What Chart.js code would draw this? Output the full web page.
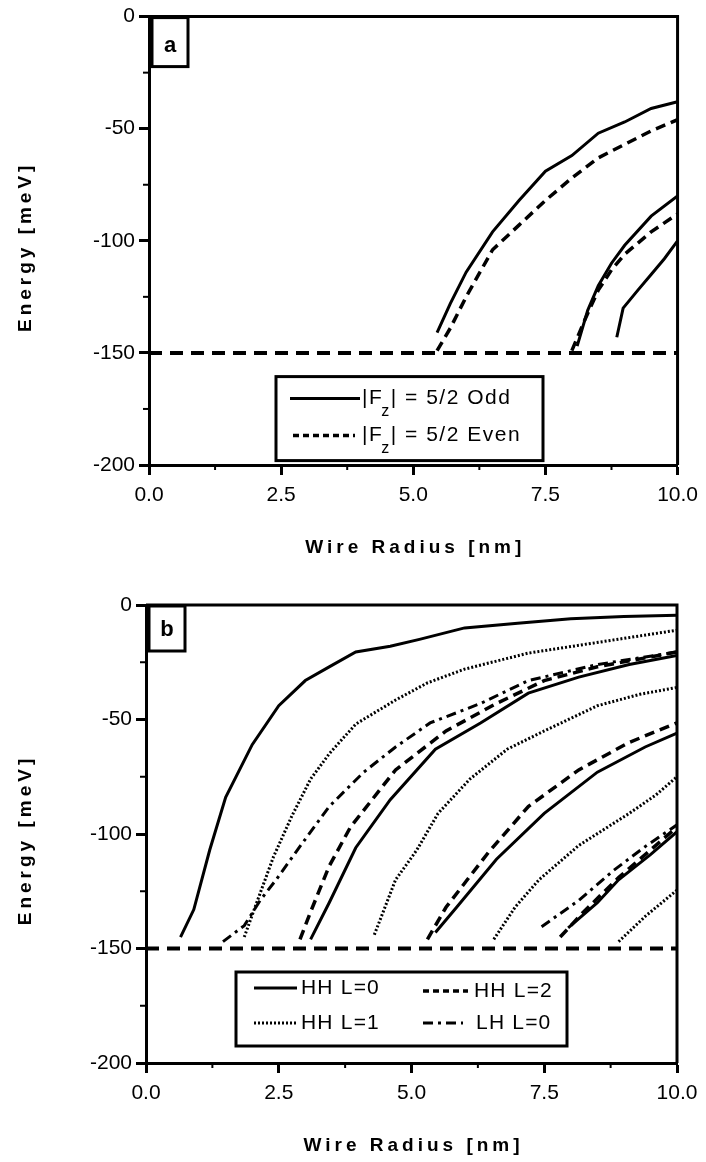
<!DOCTYPE html>
<html>
<head>
<meta charset="utf-8">
<script src="https://cdn.jsdelivr.net/npm/chart.js@4.4.1/dist/chart.umd.min.js"></script>
<style>
  body { margin: 0; background: #fff; }
  canvas { position: absolute; left: 0; }
</style>
</head>
<body>
<canvas id="chart-a" width="706" height="580" style="top:0"></canvas>
<canvas id="chart-b" width="706" height="582" style="top:580px"></canvas>
<script>
// tick labels
const xMajor = [0, 2.5, 5, 7.5, 10];
const yMajor = [0, -50, -100, -150, -200];
const xTitle = 'Wire Radius [nm]';
const yTitle = 'Energy [meV]';

// barrier level, both panels
const barrier = [[0, -150], [10, -150]];

// panel a : |Fz| = 5/2  ([radius, energy])
const oddA1 = [[5.45, -141], [5.7, -128], [6.0, -114], [6.5, -96], [7.0, -82], [7.5, -69], [8.0, -62], [8.5, -52], [9.0, -47], [9.5, -41], [10, -38]];
const oddA2 = [[8.1, -147], [8.3, -131], [8.5, -120], [8.75, -110], [9.0, -102], [9.5, -89], [10, -80]];
const oddA3 = [[8.85, -143], [8.97, -130], [9.25, -122], [9.5, -115], [9.75, -108], [10, -100]];
const evenA1 = [[5.45, -149], [5.7, -139], [6.0, -125], [6.5, -104], [7.0, -93], [7.5, -82], [8.0, -72], [8.5, -63], [9.0, -57], [9.5, -51], [10, -46]];
const evenA2 = [[8.0, -149], [8.25, -135], [8.5, -122], [8.75, -113], [9.0, -106], [9.5, -96], [10, -88]];
const labelsA = ['|F_z| = 5/2 Odd', '|F_z| = 5/2 Even'];

// panel b : HH / LH subbands
const hh0B1 = [[0.65, -145], [0.9, -133], [1.2, -107], [1.5, -84], [2.0, -61], [2.5, -44], [3.0, -33], [3.45, -27], [3.95, -20.5], [4.6, -18], [5.15, -15], [6.0, -10], [7.0, -8], [8.0, -6], [9.0, -5], [10, -4.5]];
const hh0B2 = [[3.1, -146], [3.45, -130], [3.95, -106], [4.6, -85], [5.45, -63], [6.3, -51.5], [7.2, -38.5], [8.15, -31.5], [9.1, -26], [10, -22]];
const hh0B3 = [[5.45, -143], [5.85, -132], [6.6, -111], [7.5, -91], [8.5, -73], [9.4, -62], [10, -56]];
const hh0B4 = [[7.95, -141], [8.5, -130], [8.9, -120], [9.5, -109], [10, -99]];
const hh1B1 = [[1.85, -145], [2.1, -129], [2.4, -110], [2.75, -92], [3.1, -76], [3.45, -65], [3.95, -52], [4.7, -41.5], [5.3, -34], [6.0, -28], [7.2, -21], [8.6, -16], [10, -11]];
const hh1B2 = [[4.3, -144], [4.7, -120], [5.1, -107], [5.5, -91], [6.1, -76], [6.8, -63], [7.5, -55], [8.5, -44], [9.3, -39], [10, -36]];
const hh1B3 = [[6.55, -146], [6.95, -132], [7.4, -120], [8.15, -105], [9.1, -91], [9.6, -83], [10, -75]];
const hh1B4 = [[8.9, -147], [9.4, -136], [10, -124.5]];
const hh2B1 = [[2.9, -146], [3.1, -134], [3.45, -114], [3.85, -97], [4.7, -72], [5.65, -55], [6.6, -43], [7.5, -33], [8.5, -27], [10, -20.5]];
const hh2B2 = [[5.3, -146], [5.65, -132], [6.05, -120], [6.45, -108], [7.2, -88], [8.15, -72], [9.1, -60], [10, -51.5]];
const hh2B3 = [[7.8, -145], [8.2, -135], [8.9, -119], [9.7, -103], [10, -97]];
const lh0B1 = [[1.45, -147], [1.85, -140], [2.15, -129], [2.45, -120], [2.85, -107], [3.45, -88], [4.1, -73], [4.7, -62], [5.35, -51.5], [6.3, -43], [7.2, -33], [8.5, -26], [10, -20.5]];
const lh0B2 = [[7.45, -140.5], [8.15, -129], [8.8, -116], [9.4, -105.5], [10, -96]];
const labelsB = ['HH L=0', 'HH L=2', 'HH L=1', 'LH L=0'];

const styles = {
  solid: { dash: [], width: 3 },
  dashed: { dash: [10, 6], width: 3.5 },
  legendDash: { dash: [6, 4], width: 3.5 },
  dotted: { dash: [2, 2], width: 3 },
  dashdot: { dash: [10, 5, 3, 5], width: 3 },
  barrier: { dash: [13, 8], width: 4 }
};

const FONT = '"Liberation Sans", Arial, sans-serif';

function curve(points, style) {
  return {
    data: points.map(p => ({ x: p[0], y: p[1] })),
    borderColor: '#000',
    borderWidth: style.width,
    borderDash: style.dash,
    borderCapStyle: 'butt',
    pointRadius: 0,
    tension: 0,
    fill: false
  };
}

// label with "_z" rendered as a subscript
function drawLabel(ctx, text, x, y, spacing) {
  const parts = text.split('_');
  ctx.save();
  ctx.letterSpacing = spacing + 'px';
  ctx.font = '21px ' + FONT;
  ctx.textBaseline = 'middle';
  ctx.textAlign = 'left';
  ctx.fillText(parts[0], x, y);
  if (parts.length > 1) {
    let cx = x + ctx.measureText(parts[0]).width;
    ctx.font = '16px ' + FONT;
    ctx.fillText(parts[1][0], cx - 2, y + 13);
    cx += ctx.measureText(parts[1][0]).width - 2;
    ctx.font = '21px ' + FONT;
    ctx.fillText(parts[1].slice(1), cx, y);
  }
  ctx.restore();
}

function strokeSample(ctx, style, x, y, w) {
  ctx.save();
  ctx.setLineDash(style.dash);
  ctx.lineWidth = style.width;
  ctx.beginPath();
  ctx.moveTo(x, y);
  ctx.lineTo(x + w, y);
  ctx.stroke();
  ctx.restore();
}

const decorations = {
  id: 'decorations',
  afterDraw(chart, args, opts) {
    const { ctx, chartArea: a, scales } = chart;
    ctx.save();
    ctx.strokeStyle = '#000';
    ctx.fillStyle = '#000';
    ctx.setLineDash([]);

    // top and right frame
    ctx.lineWidth = 3;
    ctx.beginPath();
    ctx.moveTo(a.left, a.top);
    ctx.lineTo(a.right, a.top);
    ctx.lineTo(a.right, a.bottom);
    ctx.stroke();

    // minor ticks
    ctx.lineWidth = 2;
    for (let i = 0; i < yMajor.length - 1; i++) {
      const py = scales.y.getPixelForValue((yMajor[i] + yMajor[i + 1]) / 2);
      ctx.beginPath(); ctx.moveTo(a.left - 6, py); ctx.lineTo(a.left, py); ctx.stroke();
    }
    for (let i = 0; i < xMajor.length - 1; i++) {
      const px = scales.x.getPixelForValue((xMajor[i] + xMajor[i + 1]) / 2);
      ctx.beginPath(); ctx.moveTo(px, a.bottom); ctx.lineTo(px, a.bottom + 5); ctx.stroke();
    }

    // panel letter box
    ctx.lineWidth = 3;
    ctx.strokeRect(a.left + 3, a.top + 1, opts.tag.w, opts.tag.h);
    ctx.font = 'bold 22px ' + FONT;
    ctx.textAlign = 'center';
    ctx.textBaseline = 'alphabetic';
    ctx.fillText(opts.tag.text, a.left + 3 + opts.tag.w / 2, a.top + opts.tag.h - 14);

    // legend box
    const b = opts.legend.box;
    ctx.lineWidth = 3;
    ctx.strokeRect(a.left + b[0], a.top + b[1], b[2], b[3]);
    opts.legend.items.forEach(it => {
      strokeSample(ctx, it.style, a.left + it.sx, a.top + it.y, it.sw);
      drawLabel(ctx, it.label, a.left + it.tx, a.top + it.y, opts.legend.spacing);
    });

    // axis titles
    ctx.letterSpacing = '4px';
    ctx.font = 'bold 19px ' + FONT;
    ctx.textAlign = 'center';
    ctx.textBaseline = 'middle';
    ctx.fillText(xTitle, (a.left + a.right) / 2 + 2, a.bottom + 83);
    ctx.translate(26, (a.top + a.bottom) / 2 + 8);
    ctx.rotate(-Math.PI / 2);
    ctx.fillText(yTitle, 2, 0);
    ctx.restore();
  }
};

function makeChart(id, datasets, frame, tag, legend) {
  const canvas = document.getElementById(id);
  return new Chart(canvas, {
    type: 'line',
    data: { datasets },
    plugins: [decorations],
    options: {
      responsive: false,
      animation: false,
      devicePixelRatio: 1,
      layout: { autoPadding: false, padding: { left: 0, top: frame.top, right: canvas.width - frame.right, bottom: 0 } },
      plugins: {
        legend: { display: false },
        tooltip: { enabled: false },
        decorations: { tag, legend }
      },
      scales: {
        x: {
          type: 'linear',
          min: 0,
          max: 10,
          afterBuildTicks: s => { s.ticks = xMajor.map(v => ({ value: v })); },
          afterFit: s => { s.height = canvas.height - frame.bottom; },
          ticks: { callback: v => v.toFixed(1), color: '#000', font: { family: FONT, size: 21 }, padding: 8, maxRotation: 0 },
          grid: { drawOnChartArea: false, tickLength: 10, tickWidth: 3, tickColor: '#000' },
          border: { display: true, width: 3, color: '#000' }
        },
        y: {
          min: -200,
          max: 0,
          afterBuildTicks: s => { s.ticks = yMajor.map(v => ({ value: v })); },
          afterFit: s => { s.width = frame.left; },
          ticks: { callback: v => String(v), color: '#000', font: { family: FONT, size: 21 }, padding: 4 },
          grid: { drawOnChartArea: false, tickLength: 10, tickWidth: 3, tickColor: '#000' },
          border: { display: true, width: 3, color: '#000' }
        }
      }
    }
  });
}

makeChart('chart-a', [
  curve(barrier, styles.barrier),
  curve(oddA1, styles.solid),
  curve(oddA2, styles.solid),
  curve(oddA3, styles.solid),
  curve(evenA1, styles.dashed),
  curve(evenA2, styles.dashed)
], { left: 149, right: 683, top: 8, bottom: 465 },
{ text: 'a', w: 36, h: 49 },
{
  box: [127, 360, 267, 84],
  spacing: 1.5,
  items: [
    { label: labelsA[0], style: styles.solid, sx: 141, sw: 70, tx: 213, y: 382 },
    { label: labelsA[1], style: styles.legendDash, sx: 144, sw: 62, tx: 213, y: 419 }
  ]
});

makeChart('chart-b', [
  curve(barrier, styles.barrier),
  curve(hh0B1, styles.solid),
  curve(hh0B2, styles.solid),
  curve(hh0B3, styles.solid),
  curve(hh0B4, styles.solid),
  curve(hh1B1, styles.dotted),
  curve(hh1B2, styles.dotted),
  curve(hh1B3, styles.dotted),
  curve(hh1B4, styles.dotted),
  curve(hh2B1, styles.dashed),
  curve(hh2B2, styles.dashed),
  curve(hh2B3, styles.dashed),
  curve(lh0B1, styles.dashdot),
  curve(lh0B2, styles.dashdot)
], { left: 146, right: 677, top: 25, bottom: 483 },
{ text: 'b', w: 36, h: 45 },
{
  box: [90, 367, 331, 74],
  spacing: 1.2,
  items: [
    { label: labelsB[0], style: styles.solid, sx: 108, sw: 43, tx: 155, y: 383 },
    { label: labelsB[1], style: styles.legendDash, sx: 277, sw: 45, tx: 328, y: 386 },
    { label: labelsB[2], style: styles.dotted, sx: 108, sw: 43, tx: 155, y: 418 },
    { label: labelsB[3], style: styles.dashdot, sx: 277, sw: 40, tx: 330, y: 418 }
  ]
});
</script>
</body>
</html>
